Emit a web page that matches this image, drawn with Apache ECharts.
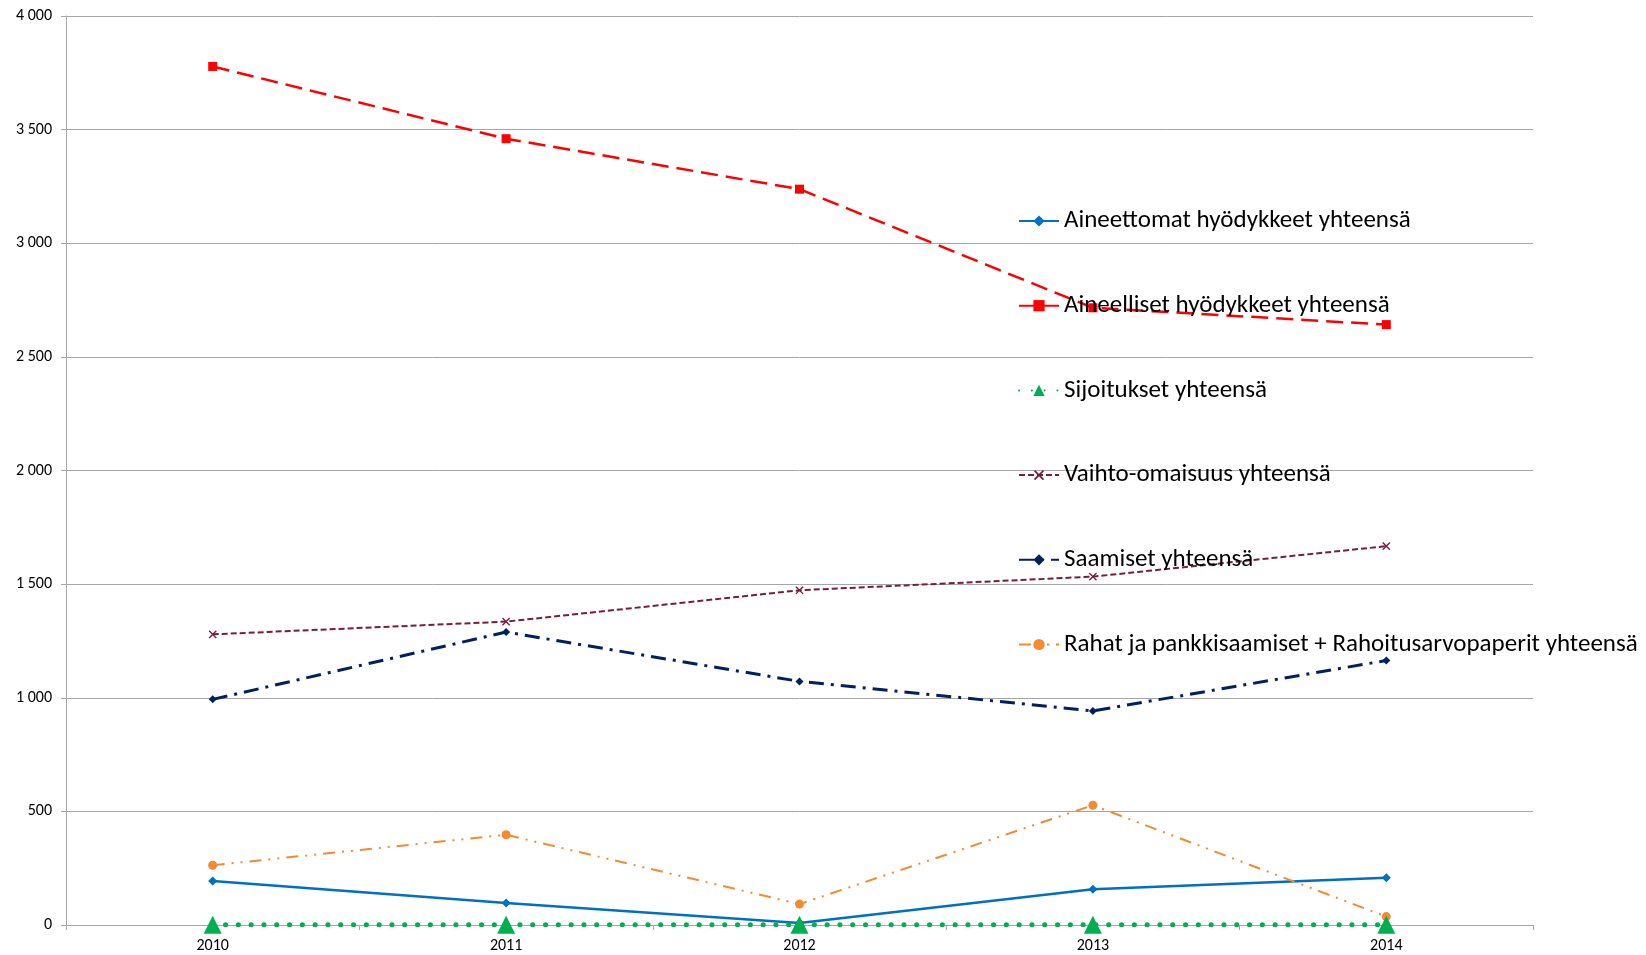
<!DOCTYPE html>
<html><head><meta charset="utf-8">
<script src="https://cdn.jsdelivr.net/npm/echarts@6/dist/echarts.min.js"></script>
<style>html,body{margin:0;padding:0;background:#fff}#c{width:1646px;height:955px}</style>
</head><body><div id="c"></div>
<script>
const years = ['2010','2011','2012','2013','2014'];
const aineettomat = [194, 97, 9, 157, 208];
const aineelliset = [3778, 3460, 3238, 2716, 2642];
const sijoitukset = [1, 1, 1, 1, 1];
const vaihto = [1279, 1335, 1473, 1533, 1667];
const saamiset = [993, 1289, 1072, 942, 1164];
const rahat = [263, 397, 92, 527, 37];
const names = ['Aineettomat hyödykkeet yhteensä','Aineelliset hyödykkeet yhteensä','Sijoitukset yhteensä','Vaihto-omaisuus yhteensä','Saamiset yhteensä','Rahat ja pankkisaamiset + Rahoitusarvopaperit yhteensä'];

function fmt(v){return String(v).replace(/\B(?=(\d{3})+(?!\d))/g,' ');}
const chart = echarts.init(document.getElementById('c'), null, {renderer:'canvas'});
chart.setOption({
  animation:false,
  backgroundColor:'#fff',
  textStyle:{fontFamily:'Carlito, "Liberation Sans", sans-serif'},
  grid:{left:66,right:113,top:16,bottom:30,containLabel:false},
  legend:{
    orient:'vertical', left:1013, top:203, itemWidth:40, itemHeight:14, itemGap:58.7,
    textStyle:{fontSize:25,color:'#000',lineHeight:26,fontFamily:'Carlito, "Liberation Sans Narrow", "Liberation Sans", sans-serif'},
    data:names
  },
  xAxis:{type:'category',data:years,boundaryGap:true,
    axisLine:{lineStyle:{color:'#A6A6A6',width:1}},
    axisTick:{show:true,length:5,lineStyle:{color:'#A6A6A6'}},
    axisLabel:{color:'#000',fontSize:16,margin:13}},
  yAxis:{type:'value',min:0,max:4000,interval:500,
    axisLine:{show:true,lineStyle:{color:'#A6A6A6',width:1}},
    axisTick:{show:true,length:5,lineStyle:{color:'#A6A6A6'}},
    splitLine:{lineStyle:{color:'#A6A6A6',width:1}},
    axisLabel:{color:'#000',fontSize:16,margin:14,formatter:fmt}},
  series:[
    {name:names[0],type:'line',data:aineettomat,symbol:'diamond',symbolSize:9,
     itemStyle:{color:'#0070C0'},lineStyle:{color:'#0070C0',width:2.5}},
    {name:names[1],type:'line',data:aineelliset,symbol:'rect',symbolSize:9,
     itemStyle:{color:'#FF0000'},lineStyle:{color:'#FF0000',width:2.5,type:[17,8]}},
    {name:names[2],type:'line',data:sijoitukset,symbol:'triangle',symbolSize:18,z:5,
     itemStyle:{color:'#00B050'},lineStyle:{color:'#00B050',width:5,type:[0.1,12.7],cap:'round'}},
    {name:names[3],type:'line',data:vaihto,symbol:'image://data:image/svg+xml;utf8,'+encodeURIComponent('<svg xmlns="http://www.w3.org/2000/svg" width="10" height="10"><path d="M1 1L9 9M9 1L1 9" stroke="#7B1C3C" stroke-width="1.5"/></svg>'),symbolSize:9,
     itemStyle:{color:'#7B1C3C'},lineStyle:{color:'#7B1C3C',width:2,type:[6,3]}},
    {name:names[4],type:'line',data:saamiset,symbol:'diamond',symbolSize:8,
     itemStyle:{color:'#002060'},lineStyle:{color:'#002060',width:3,type:[15,7,3,7]}},
    {name:names[5],type:'line',data:rahat,symbol:'circle',symbolSize:9,
     itemStyle:{color:'#F58A2F'},lineStyle:{color:'#F58A2F',width:2,type:[12,7,2,7,2,7]}}
  ]
});
</script></body></html>
